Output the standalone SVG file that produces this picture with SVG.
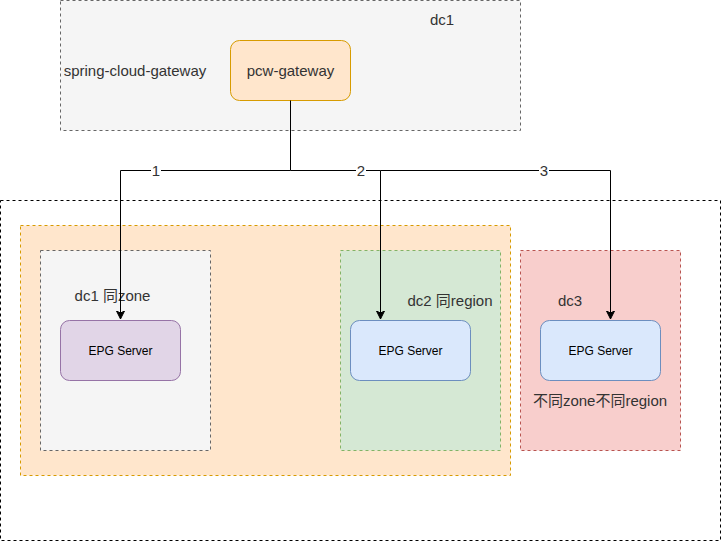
<svg xmlns="http://www.w3.org/2000/svg" width="721" height="541" viewBox="0 0 721 541">
<defs>
<style>
.lbl{font-family:"Liberation Sans",Arial,"Noto Sans CJK SC",sans-serif;font-size:15px;fill:#333;}
.node{font-family:"Liberation Sans",Arial,sans-serif;fill:#000;}
.edge{fill:none;stroke:#000;stroke-width:1;}
.num{font-family:"Liberation Sans",Arial,sans-serif;font-size:15px;fill:#333;}
</style>
<marker id="arr" markerWidth="10" markerHeight="10" refX="8" refY="4" orient="auto" markerUnits="userSpaceOnUse">
<path d="M0,0 L8,4 L0,8 L2,4 Z" fill="#000" stroke="#000" stroke-width="1"/>
</marker>
</defs>
<rect width="721" height="541" fill="#fff"/>
<g id="dc1-area">
<rect x="60.5" y="0.5" width="460" height="130" fill="#f5f5f5" stroke="#666" stroke-dasharray="3 3"/>
<text class="lbl" x="442" y="25" text-anchor="middle">dc1</text>
<text class="lbl" x="135" y="76" text-anchor="middle">spring-cloud-gateway</text>
</g>
<g id="pcw-gateway">
<rect x="230.5" y="40.5" width="120" height="60" rx="9" fill="#ffe6cc" stroke="#d79b00"/>
<text class="lbl" x="290.5" y="76" text-anchor="middle">pcw-gateway</text>
</g>
<g id="outer-area">
<rect x="0.5" y="200.5" width="720" height="340" fill="none" stroke="#000" stroke-dasharray="3 3"/>
</g>
<g id="region-area">
<rect x="20.5" y="225.5" width="490" height="250" fill="#ffe6cc" stroke="#d79b00" stroke-dasharray="3 3"/>
</g>
<g id="dc1-zone">
<rect x="40.5" y="250.5" width="170" height="200" fill="#f5f5f5" stroke="#666" stroke-dasharray="3 3"/>
<text class="lbl" x="112.5" y="301" text-anchor="middle">dc1 同zone</text>
</g>
<g id="dc2-region">
<rect x="340.5" y="250.5" width="160" height="200" fill="#d5e8d4" stroke="#82b366" stroke-dasharray="3 3"/>
<text class="lbl" x="450" y="306" text-anchor="middle">dc2 同region</text>
</g>
<g id="dc3-area">
<rect x="520.5" y="250.5" width="160" height="200" fill="#f8cecc" stroke="#b85450" stroke-dasharray="3 3"/>
<text class="lbl" x="570" y="306" text-anchor="middle">dc3</text>
<text class="lbl" x="600" y="406" text-anchor="middle">不同zone不同region</text>
</g>
<g id="epg1">
<rect x="60.5" y="320.5" width="120" height="60" rx="9" fill="#e1d5e7" stroke="#9673a6"/>
<text class="node" x="120.5" y="355" font-size="12" text-anchor="middle">EPG Server</text>
</g>
<g id="epg2">
<rect x="350.5" y="320.5" width="120" height="60" rx="9" fill="#dae8fc" stroke="#6c8ebf"/>
<text class="node" x="410.5" y="355" font-size="12" text-anchor="middle">EPG Server</text>
</g>
<g id="epg3">
<rect x="540.5" y="320.5" width="120" height="60" rx="9" fill="#dae8fc" stroke="#6c8ebf"/>
<text class="node" x="600.5" y="355" font-size="12" text-anchor="middle">EPG Server</text>
</g>
<g id="connectors">
<path class="edge" d="M290.5,100.5 V170.5 H120.5 V319" marker-end="url(#arr)"/>
<path class="edge" d="M290.5,170.5 H380.5 V319" marker-end="url(#arr)"/>
<path class="edge" d="M380.5,170.5 H610.5 V319" marker-end="url(#arr)"/>
<rect x="151" y="163" width="10" height="15" fill="#fff"/>
<text class="num" x="156" y="176" text-anchor="middle">1</text>
<rect x="356" y="163" width="10" height="15" fill="#fff"/>
<text class="num" x="361" y="176" text-anchor="middle">2</text>
<rect x="539" y="163" width="10" height="15" fill="#fff"/>
<text class="num" x="544" y="176" text-anchor="middle">3</text>
</g>
</svg>
